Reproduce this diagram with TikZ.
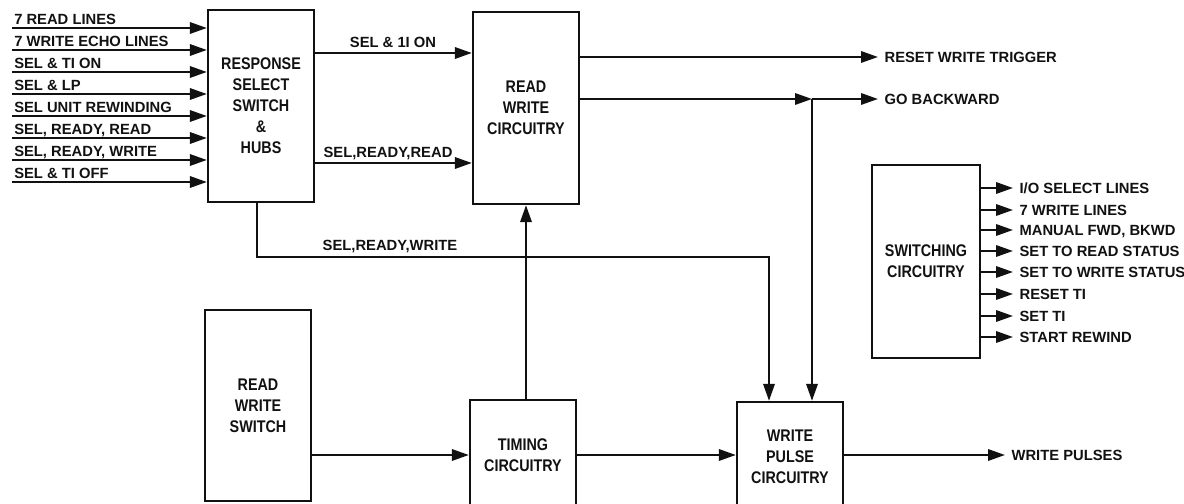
\documentclass[tikz,border=0pt]{standalone}
\usepackage{fontspec}
\usetikzlibrary{arrows.meta,positioning}
\newfontfamily\boxfont[FakeStretch=0.85]{Liberation Sans}
\newfontfamily\linefont{Liberation Sans}
\definecolor{Ink}{HTML}{111111}
\tikzset{
  blk/.style={rectangle,draw=Ink,line width=1.6pt,minimum width=2.65cm,
              inner sep=0pt,align=center,text=Ink,
              font=\boxfont\bfseries\fontsize{12}{15}\selectfont},
  sig/.style={-{Triangle[length=12pt,width=8pt]},line width=1.6pt,draw=Ink},
  inlbl/.style={anchor=base west,inner sep=0pt,text=Ink,
                font=\linefont\bfseries\fontsize{10.5}{12}\selectfont},
  outlbl/.style={anchor=west,inner xsep=4.5pt,inner ysep=0pt,
                 text height=7.6pt,text depth=0pt,text=Ink,
                 font=\linefont\bfseries\fontsize{10.5}{12}\selectfont},
  midlbl/.style={inner sep=0pt,text=Ink,
                 font=\linefont\bfseries\fontsize{10.5}{12}\selectfont},
}

\begin{document}
\begin{tikzpicture}[x=0.025cm,y=-0.025cm]

  \clip (0,0) rectangle (1184,504);

  % blocks
  \node[blk,minimum height=4.8cm]   (resp) at (261,106) {RESPONSE\\SELECT\\SWITCH\\\&\\HUBS};
  \node[blk,minimum height=4.8cm]   (rwc)  at (526,108) {READ\\WRITE\\CIRCUITRY};
  \node[blk,minimum width=2.7cm,minimum height=4.825cm]
                                    (swc)  at (926,261.5) {SWITCHING\\CIRCUITRY};
  \node[blk,minimum height=4.775cm] (rws)  at (258,405.5) {READ\\WRITE\\SWITCH};
  \node[blk,minimum height=2.75cm]  (tim)  at (523,455) {TIMING\\CIRCUITRY};
  \node[blk,minimum height=2.75cm]  (wpc)  at (790,457) {WRITE\\PULSE\\CIRCUITRY};

  % input lines
  \coordinate (in1) at (12,28);
  \coordinate (in2) at (12,50);
  \coordinate (in3) at (12,72);
  \coordinate (in4) at (12,94);
  \coordinate (in5) at (12,116);
  \coordinate (in6) at (12,138);
  \coordinate (in7) at (12,160);
  \coordinate (in8) at (12,182);
  \node[inlbl] (lin1) at (14,25)  {7 READ LINES};
  \node[inlbl] (lin2) at (14,47)  {7 WRITE ECHO LINES};
  \node[inlbl] (lin3) at (14,69)  {SEL \& TI ON};
  \node[inlbl] (lin4) at (14,91)  {SEL \& LP};
  \node[inlbl] (lin5) at (14,113) {SEL UNIT REWINDING};
  \node[inlbl] (lin6) at (14,135) {SEL, READY, READ};
  \node[inlbl] (lin7) at (14,157) {SEL, READY, WRITE};
  \node[inlbl] (lin8) at (14,179) {SEL \& TI OFF};
  \draw[sig] (in1) -- (in1 -| resp.west);
  \draw[sig] (in2) -- (in2 -| resp.west);
  \draw[sig] (in3) -- (in3 -| resp.west);
  \draw[sig] (in4) -- (in4 -| resp.west);
  \draw[sig] (in5) -- (in5 -| resp.west);
  \draw[sig] (in6) -- (in6 -| resp.west);
  \draw[sig] (in7) -- (in7 -| resp.west);
  \draw[sig] (in8) -- (in8 -| resp.west);

  % response select -> read write circuitry
  \coordinate (son) at (393,53);
  \coordinate (srr) at (388,163);
  \node[midlbl] (lson) at (393,42)  {SEL \& 1I ON};
  \node[midlbl] (lsrr) at (388,153) {SEL,READY,READ};
  \draw[sig] (resp.east |- son) -- (rwc.west |- son);
  \draw[sig] (resp.east |- srr) -- (rwc.west |- srr);

  % sel ready write -> write pulse
  \coordinate (srw)  at (257,257);
  \coordinate (wpin) at (769,257);
  \node[midlbl] (lsrw) at (390,246) {SEL,READY,WRITE};
  \draw[sig] (srw |- resp.south) -- (srw) -- (wpin) -- (wpin |- wpc.north);

  % read write circuitry outputs
  \node[outlbl] (lrst) at (878,57) {RESET WRITE TRIGGER};
  \node[outlbl] (lgo)  at (878,99) {GO BACKWARD};
  \coordinate (jgo) at (812,99);
  \draw[sig] (rwc.east |- lrst.west) -- (lrst.west);
  \draw[sig] (rwc.east |- jgo) -- (jgo);
  \draw[sig] (jgo) -- (lgo.west);
  \draw[sig] (jgo) -- (jgo |- wpc.north);

  % lower chain
  \draw[sig] (rwc.south |- tim.north) -- (rwc.south);
  \draw[sig] (rws.east |- tim.west) -- (tim.west);
  \draw[sig] (tim.east) -- (tim.east -| wpc.west);
  \node[outlbl] (lwp) at (1005,455) {WRITE PULSES};
  \draw[sig] (wpc.east |- lwp.west) -- (lwp.west);

  % switching circuitry outputs
  \node[outlbl] (lo1) at (1013,188) {I/O SELECT LINES};
  \node[outlbl] (lo2) at (1013,210) {7 WRITE LINES};
  \node[outlbl] (lo3) at (1013,230) {MANUAL FWD, BKWD};
  \node[outlbl] (lo4) at (1013,251) {SET TO READ STATUS};
  \node[outlbl] (lo5) at (1013,272) {SET TO WRITE STATUS};
  \node[outlbl] (lo6) at (1013,294) {RESET TI};
  \node[outlbl] (lo7) at (1013,316) {SET TI};
  \node[outlbl] (lo8) at (1013,337) {START REWIND};
  \draw[sig] (swc.east |- lo1.west) -- (lo1.west);
  \draw[sig] (swc.east |- lo2.west) -- (lo2.west);
  \draw[sig] (swc.east |- lo3.west) -- (lo3.west);
  \draw[sig] (swc.east |- lo4.west) -- (lo4.west);
  \draw[sig] (swc.east |- lo5.west) -- (lo5.west);
  \draw[sig] (swc.east |- lo6.west) -- (lo6.west);
  \draw[sig] (swc.east |- lo7.west) -- (lo7.west);
  \draw[sig] (swc.east |- lo8.west) -- (lo8.west);

\end{tikzpicture}
\end{document}
